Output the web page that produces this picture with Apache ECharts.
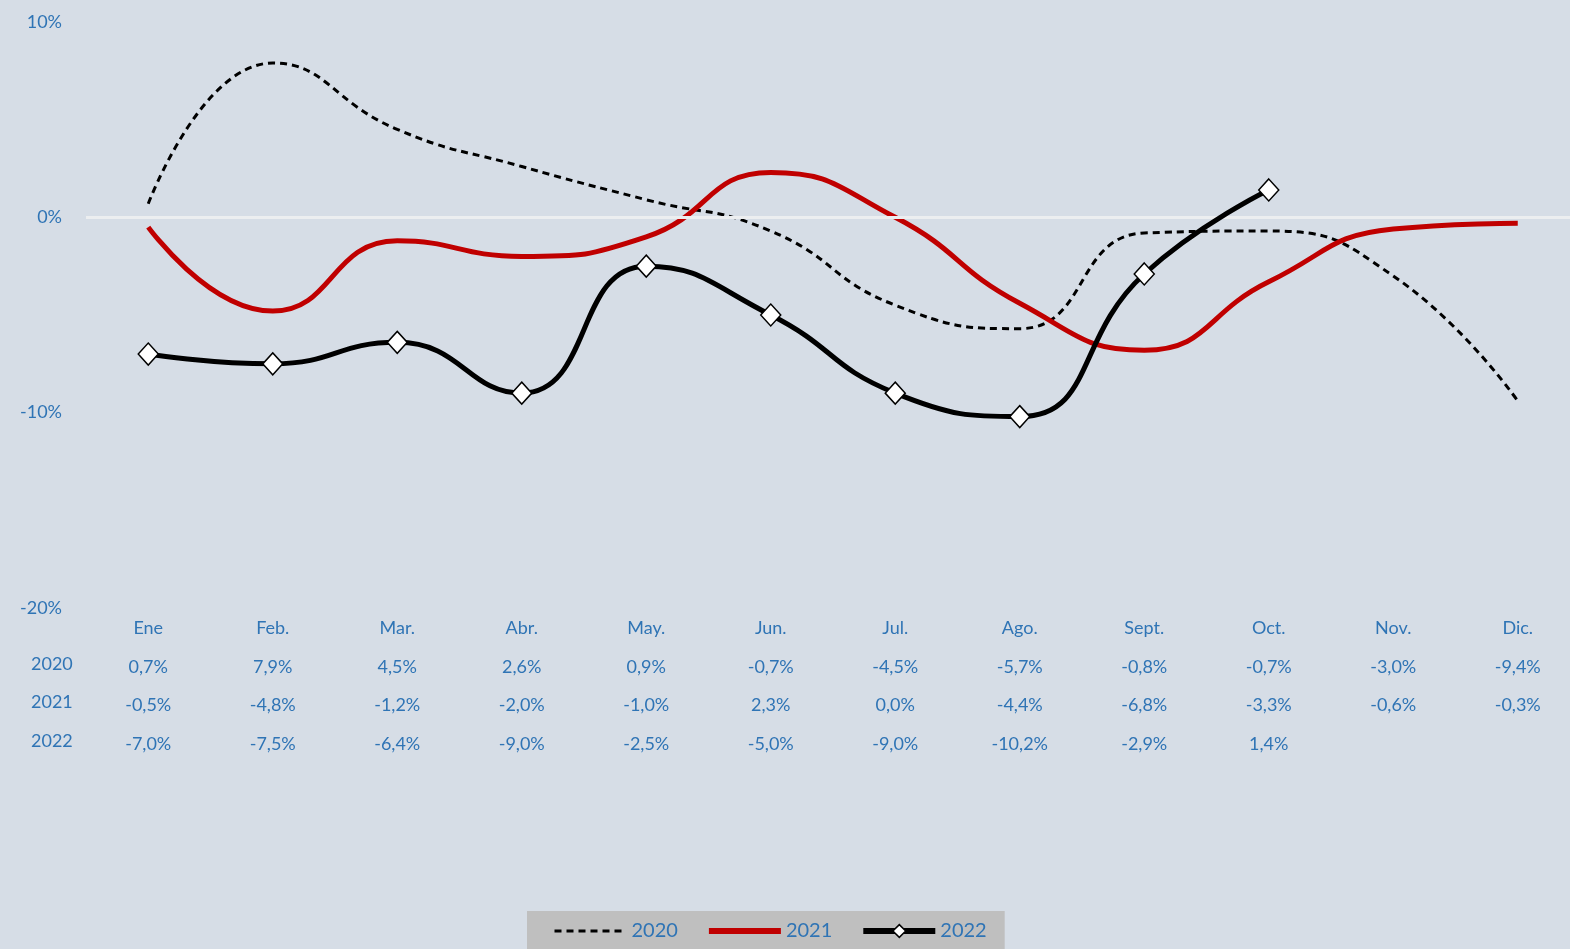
<!DOCTYPE html>
<html>
<head>
<meta charset="utf-8">
<title>Variación mensual</title>
<script src="https://cdn.jsdelivr.net/npm/echarts@6/dist/echarts.min.js"></script>
<style>
  html, body { margin: 0; padding: 0; background: #d6dde6; }
  #main { width: 1570px; height: 949px; }
</style>
</head>
<body>
<div id="main"></div>
<script>
// datos
var meses = ['Ene', 'Feb.', 'Mar.', 'Abr.', 'May.', 'Jun.', 'Jul.', 'Ago.', 'Sept.', 'Oct.', 'Nov.', 'Dic.'];
var anios = ['2020', '2021', '2022'];
var v2020 = [0.7, 7.9, 4.5, 2.6, 0.9, -0.7, -4.5, -5.7, -0.8, -0.7, -3.0, -9.4];
var v2021 = [-0.5, -4.8, -1.2, -2.0, -1.0, 2.3, 0.0, -4.4, -6.8, -3.3, -0.6, -0.3];
var v2022 = [-7.0, -7.5, -6.4, -9.0, -2.5, -5.0, -9.0, -10.2, -2.9, 1.4, null, null];
var yTicks = [-20, -10, 0, 10];

var azul = '#2f74b5';
var fuente = 'Lato';

function pct(v) {
    if (v === null || v === undefined) return '';
    return v.toFixed(1).replace('.', ',') + '%';
}

var chart = echarts.init(document.getElementById('main'));
chart.setOption({
    backgroundColor: '#d6dde6',
    textStyle: { fontFamily: fuente },
    animation: false,
    grid: {
        left: 86,
        width: 1494,
        top: 22,
        bottom: 341,
        containLabel: false,
        outerBoundsMode: 'none'
    },
    xAxis: {
        type: 'category',
        data: meses,
        boundaryGap: true,
        axisLine: { show: false },
        axisTick: { show: false },
        axisLabel: {
            margin: 1,
            color: azul,
            fontSize: 18,
            fontFamily: fuente,
            lineHeight: 38.5,
            interval: 0,
            formatter: function (v, i) {
                return v + '\n' + pct(v2020[i]) + '\n' + pct(v2021[i]) + '\n' + (pct(v2022[i]) || ' ');
            }
        }
    },
    yAxis: {
        type: 'value',
        min: yTicks[0],
        max: yTicks[yTicks.length - 1],
        interval: 10,
        splitLine: { show: false },
        axisLine: { show: false },
        axisTick: { show: false },
        axisLabel: {
            margin: 24,
            color: azul,
            fontSize: 18,
            fontFamily: fuente,
            formatter: function (v) { return v + '%'; }
        }
    },
    legend: {
        bottom: -6,
        left: 527,
        backgroundColor: '#bfbfbf',
        padding: [10, 18, 14, 26],
        itemWidth: 72,
        itemHeight: 16,
        itemGap: 28,
        itemStyle: { opacity: 0 },
        textStyle: { color: azul, fontSize: 20, fontFamily: fuente },
        data: [
            { name: anios[0], lineStyle: { width: 3, type: [7, 5], color: '#000' } },
            { name: anios[1], lineStyle: { width: 6, color: '#c00000' } },
            { name: anios[2], lineStyle: { width: 6, color: '#000' },
              itemStyle: { opacity: 1, color: '#fff', borderColor: '#000', borderWidth: 1.5 } }
        ]
    },
    graphic: anios.map(function (a, k) {
        return {
            type: 'text',
            left: 31,
            top: 655 + k * 38.5,
            style: { text: a, fill: azul, fontSize: 18, fontFamily: fuente }
        };
    }),
    series: [
        {
            name: anios[0],
            type: 'line',
            data: v2020,
            smooth: 0.5,
            symbol: 'none',
            lineStyle: { color: '#000', width: 3, type: [7, 5] },
            itemStyle: { color: '#000' },
            markLine: {
                silent: true,
                symbol: 'none',
                label: { show: false },
                lineStyle: { color: '#eceef0', width: 3, type: 'solid' },
                data: [{ yAxis: 0 }]
            },
            z: 3
        },
        {
            name: anios[1],
            type: 'line',
            data: v2021,
            smooth: 0.5,
            symbol: 'none',
            lineStyle: { color: '#c00000', width: 5 },
            itemStyle: { color: '#c00000' },
            z: 4
        },
        {
            name: anios[2],
            type: 'line',
            data: v2022,
            smooth: 0.5,
            symbol: 'diamond',
            symbolSize: [20, 22],
            lineStyle: { color: '#000', width: 5 },
            itemStyle: { color: '#fff', borderColor: '#000', borderWidth: 1.5 },
            z: 5
        }
    ]
});
</script>
</body>
</html>
